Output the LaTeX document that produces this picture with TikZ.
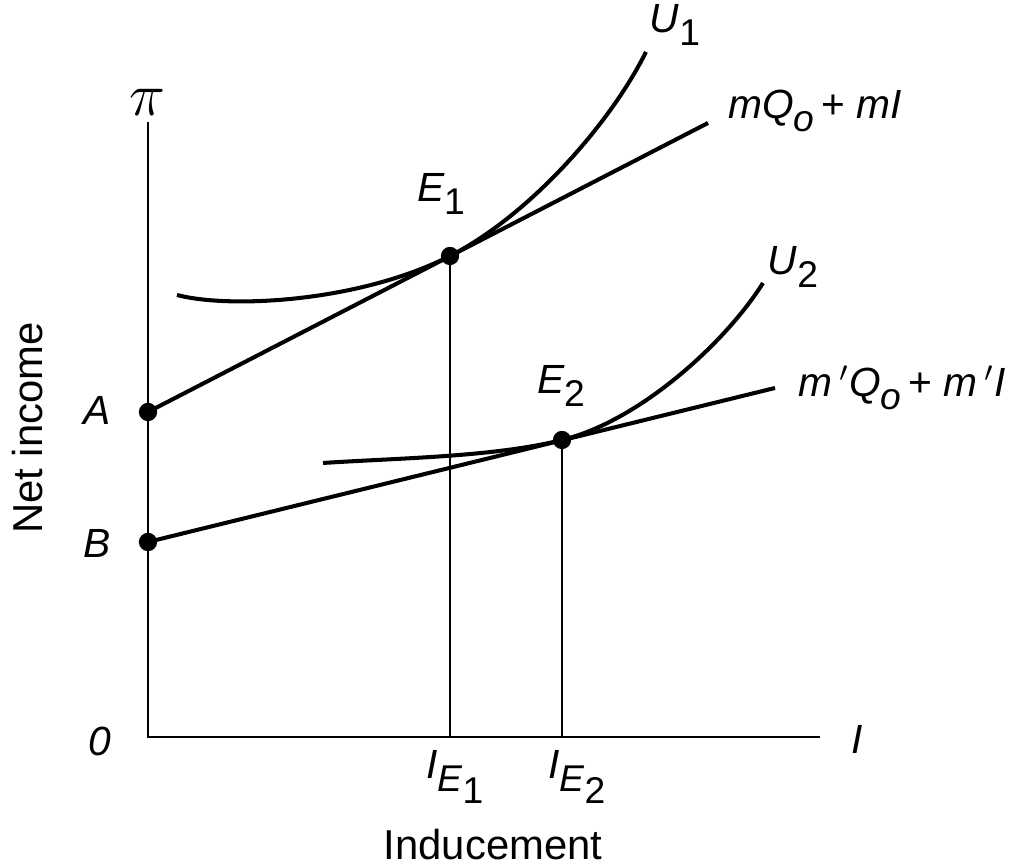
\documentclass[tikz,border=0pt]{standalone}
\usepackage{fontspec}
\setmainfont{Liberation Sans}
\newcommand{\lo}[1]{\raisebox{-3.6pt}{\fontsize{10.6}{11}\selectfont#1}}
\tikzset{
    axis/.style={line width=0.6pt},
    curve/.style={line width=1.15pt},
    lbl/.style={font=\fontsize{11.6}{13}\selectfont\itshape,inner sep=0pt},
    axlab/.style={font=\fontsize{11.9}{13}\selectfont,inner sep=0pt},
    eqpt/.style={circle,fill,inner sep=0pt,minimum size=5.2pt}
}

\begin{document}
\begin{tikzpicture}
    \useasboundingbox(0,0)rectangle(10.12,8.64);
    \coordinate(O)at(1.48,1.27);
    \coordinate(Ytop)at(1.48,7.42);
    \coordinate(Xend)at(8.20,1.27);
    \coordinate(A)at(1.48,4.52);
    \coordinate(B)at(1.48,3.22);
    \coordinate(E1)at(4.50,6.08);
    \coordinate(E2)at(5.62,4.24);
    \coordinate(L1)at(7.08,7.41);
    \coordinate(L2)at(7.75,4.76);
    \draw[axis](Ytop)--(O)--(Xend);
    \draw[axis](E1)--(E1|-O);
    \draw[axis](E2)--(E2|-O);
    \draw[curve](A)--(L1);
    \draw[curve](B)--(L2);
    \draw[curve](1.77,5.69)..controls(2.3,5.55)and(3.60,5.62)..(E1)..controls(5.30,6.49)and(6.10,7.40)..(6.46,8.12);
    \draw[curve](3.23,4.01)..controls(4.0,4.06)and(4.94,4.07)..(E2)..controls(6.40,4.43)and(7.26,5.22)..(7.63,5.81);
    \node[eqpt](dA)at(A){};
    \node[eqpt](dB)at(B){};
    \node[eqpt](dE1)at(E1){};
    \node[eqpt](dE2)at(E2){};
    \node[inner sep=0pt,font=\fontsize{16}{17}\selectfont](pi)at(1.47,7.62){$\pi$};
    \node[lbl](zero)at(1.00,1.23){0};
    \node[lbl](iax)at(8.57,1.25){I};
    \node[lbl](la)at(0.97,4.53){A};
    \node[lbl](lb)at(0.97,3.21){B};
    \node[lbl](le1)at(4.41,6.70){E\lo{\upshape 1}};
    \node[lbl](le2)at(5.61,4.78){E\lo{\upshape 2}};
    \node[lbl](lu1)at(6.75,8.39){U\lo{\upshape 1}};
    \node[lbl](lu2)at(7.93,5.97){U\lo{\upshape 2}};
    \node[lbl](eq1)at(8.15,7.53){mQ\lo{o}\,\upshape+ \itshape mI};
    \node[lbl](eq2)at(9.02,4.76){m\,$'$Q\lo{o}\,\upshape+ \itshape m\,$'$I};
    \node[lbl](ie1)at(4.55,0.87){I\lo{E\lo{\upshape 1}}};
    \node[lbl](ie2)at(5.77,0.87){I\lo{E\lo{\upshape 2}}};
    \node[axlab](xlab)at(4.93,0.19){Inducement};
    \node[axlab,rotate=90](ylab)at(0.28,4.36){Net income};
\end{tikzpicture}
\end{document}
